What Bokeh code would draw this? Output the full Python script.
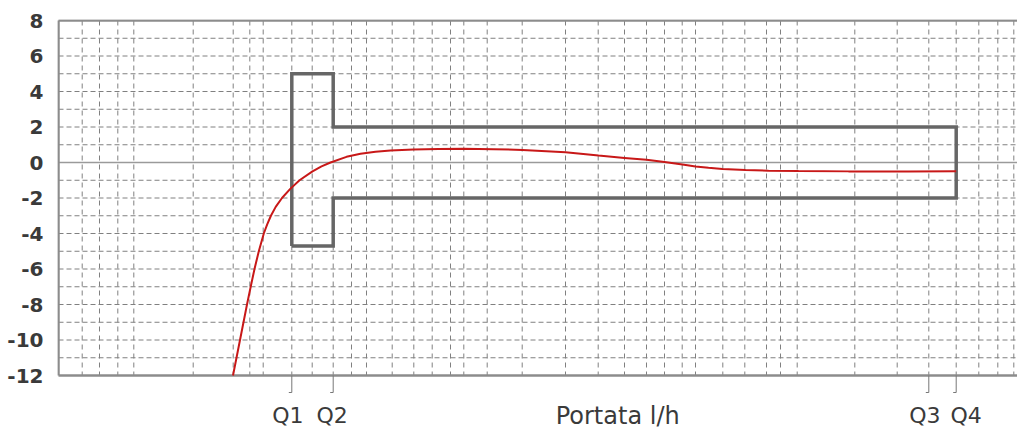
from bokeh.plotting import figure
from bokeh.models import FixedTicker, Range1d
from bokeh.core.properties import value
from bokeh.embed import file_html
from bokeh.resources import INLINE

# ---- data (x is an arbitrary flow scale, no numeric labels in the original) ----
y_ticks = [-12, -10, -8, -6, -4, -2, 0, 2, 4, 6, 8]
y_tick_labels = ["-12", "-10", "-8", "-6", "-4", "-2", "0", "2", "4", "6", "8"]
y_grid = [-11, -10, -9, -8, -7, -6, -5, -4, -3, -2, -1, 1, 2, 3, 4, 5, 6, 7]
x_grid = [23.7, 41, 59.3, 75.3, 134.7, 174.7, 191.3, 204.7, 233.3, 253.7, 274.7,
          293, 308, 333.7, 355.3, 373.7, 392, 405.3, 428.7, 463.7, 507, 539.7,
          566, 588, 606, 623.7, 637, 664.3, 686.3, 708, 722, 738.7, 796.3,
          838.7, 870.3, 897.7, 920.3, 939.3, 955.3]

q_names = ["Q1", "Q2", "Q3", "Q4"]
q_pos = [233.3, 274.7, 870.3, 897.7]

# error limits (%): low zone Q1..Q2, high zone Q2..Q4
low_zone_upper = 5.0
low_zone_lower = -4.7
high_zone_upper = 2.0
high_zone_lower = -2.0

curve_x = [174.5, 178, 181.5, 185, 188.5, 192.2, 196, 200.3, 205.3, 208.6, 212.4,
           217.2, 223.5, 231.5, 241, 254, 263, 272, 288, 302, 317, 332, 355,
           380, 405, 435, 464, 507, 540, 566, 588, 606, 624, 637, 650, 664,
           687, 710, 740, 790, 850, 897.7]
curve_y = [-12.0, -11.0, -10.0, -9.0, -8.0, -7.0, -6.0, -5.0, -4.0, -3.5, -3.0,
           -2.5, -2.0, -1.5, -1.0, -0.5, -0.22, 0.0, 0.32, 0.49, 0.6, 0.67,
           0.73, 0.76, 0.77, 0.75, 0.71, 0.58, 0.39, 0.26, 0.15, 0.03, -0.11,
           -0.22, -0.3, -0.36, -0.42, -0.46, -0.48, -0.5, -0.5, -0.49]

x_label = "Portata  l/h"
x_label_pos = 563

# ---- geometry ----
Y_TOP, Y_BOTTOM = 8, -12
PX_PER_UNIT = 17.75
X_END = 959
FIG_W, FIG_H = 1017, 436
TOP = 19
Y_END = Y_TOP + 1 / PX_PER_UNIT
Y_MIN = Y_END - (FIG_H - TOP) / PX_PER_UNIT

p = figure(width=FIG_W, height=FIG_H, output_backend="svg", toolbar_location=None,
           x_range=Range1d(-1, X_END), y_range=Range1d(Y_MIN, Y_END))
p.min_border_left = 57
p.min_border_right = 0
p.min_border_top = TOP
p.min_border_bottom = 0
p.outline_line_color = None
p.background_fill_color = "white"
p.border_fill_color = "white"
p.grid.visible = False
p.xaxis.visible = False

border_col = "#8c8c8c"
grid_col = "#808080"

# y axis (labels only)
p.yaxis.ticker = FixedTicker(ticks=y_ticks)
p.yaxis.major_label_overrides = dict(zip(y_ticks, y_tick_labels))
p.yaxis.major_tick_line_color = None
p.yaxis.minor_tick_line_color = None
p.yaxis.axis_line_color = None
p.yaxis.major_label_standoff = 8
p.yaxis.major_label_text_font = "DejaVu Sans"
p.yaxis.major_label_text_font_style = "bold"
p.yaxis.major_label_text_font_size = "20px"
p.yaxis.major_label_text_color = "#3a3a3a"

# dashed grid, limited to the plotting box
p.segment(x0=x_grid, x1=x_grid, y0=[Y_TOP] * len(x_grid), y1=[Y_BOTTOM] * len(x_grid),
          line_color=grid_col, line_dash="5 4", line_width=1)
p.segment(x0=[0] * len(y_grid), x1=[X_END] * len(y_grid), y0=y_grid, y1=y_grid,
          line_color=grid_col, line_dash="5 3", line_width=1)

# zero line
p.segment(x0=[0], x1=[X_END], y0=[0], y1=[0], line_color="#9a9a9a", line_width=1.5)

# box border (left, bottom, top)
p.segment(x0=[0, 0, 0], x1=[0, X_END, X_END], y0=[Y_BOTTOM, Y_BOTTOM, Y_TOP],
          y1=[Y_TOP, Y_BOTTOM, Y_TOP], line_color=border_col, line_width=2.5)

# Q tick marks with small foot
tick_len = 17 / PX_PER_UNIT
p.segment(x0=q_pos, x1=q_pos, y0=[Y_BOTTOM] * 4, y1=[Y_BOTTOM - tick_len] * 4,
          line_color="#777777", line_width=1)
p.segment(x0=[q - 3 for q in q_pos], x1=q_pos, y0=[Y_BOTTOM - tick_len] * 4,
          y1=[Y_BOTTOM - tick_len] * 4, line_color="#777777", line_width=1)

# tolerance envelope
q1, q2, q3, q4 = q_pos
env_x = [q1, q1, q2, q2, q4, q4, q2, q2, q1]
env_y = [low_zone_lower, low_zone_upper, low_zone_upper, high_zone_upper,
         high_zone_upper, high_zone_lower, high_zone_lower, low_zone_lower,
         low_zone_lower]
p.line(env_x, env_y, line_color="#666666", line_width=3.5, line_join="miter")

# error curve
p.line(curve_x, curve_y, line_color="#c81818", line_width=2)

# Q labels and axis title
label_y = Y_BOTTOM - 40 / PX_PER_UNIT
q_offsets = [-4, -1, -4, 10]
for name, xq, dx in zip(q_names, q_pos, q_offsets):
    p.text(x=[xq], y=[label_y], text=[name], x_offset=dx,
           text_align="center", text_baseline="middle",
           text_font=value("DejaVu Sans"), text_font_size="22px",
           text_color="#3a3a3a")
p.text(x=[x_label_pos], y=[label_y], text=[x_label],
       text_align="center", text_baseline="middle",
       text_font=value("DejaVu Sans"), text_font_size="24px",
       text_color="#3a3a3a")

open("out.html", "w").write(file_html(p, INLINE))
